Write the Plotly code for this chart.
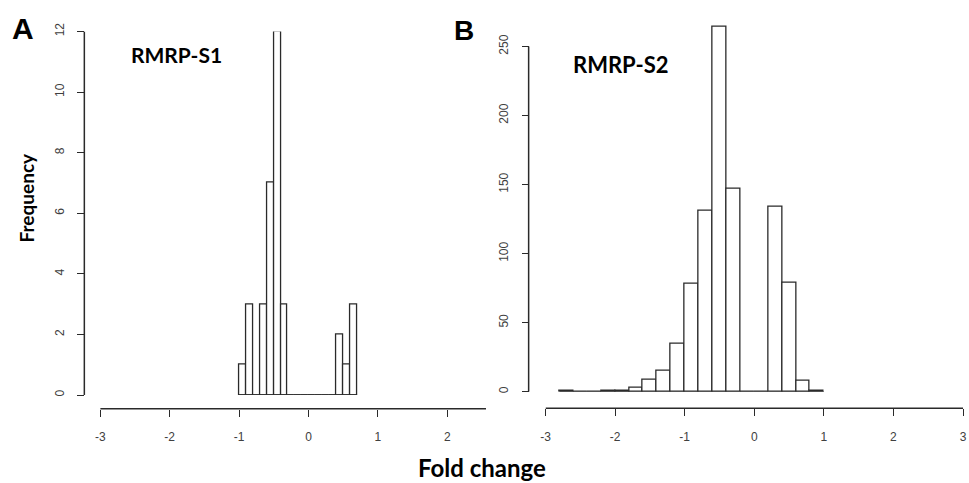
import plotly.graph_objects as go

# ---------------- data ----------------
# Panel A: RMRP-S1 histogram (bin width 0.1)
s1_edges = [-1.0, -0.9, -0.8, -0.7, -0.6, -0.5, -0.4, -0.3, -0.2, -0.1, 0.0,
            0.1, 0.2, 0.3, 0.4, 0.5, 0.6, 0.7]
s1_counts = [1, 3, 0, 3, 7, 12, 3, 0, 0, 0, 0, 0, 0, 0, 2, 1, 3]

# Panel B: RMRP-S2 histogram (bin width 0.2)
s2_edges = [-2.8, -2.6, -2.4, -2.2, -2.0, -1.8, -1.6, -1.4, -1.2, -1.0, -0.8,
            -0.6, -0.4, -0.2, 0.0, 0.2, 0.4, 0.6, 0.8, 1.0]
s2_counts = [1, 0, 0, 1, 1, 3, 9, 15, 35, 78, 131, 264, 147, 0, 0, 134, 79, 8, 1]

x_ticks = [-3, -2, -1, 0, 1, 2, 3]
y_ticks_a = [0, 2, 4, 6, 8, 10, 12]
y_ticks_b = [0, 50, 100, 150, 200, 250]

# ---------------- layout helpers ----------------
W, H = 969, 483
def fx(px):
    return px / W
def fy(py):
    return 1 - py / H

def centers(edges):
    return [(a + b) / 2 for a, b in zip(edges[:-1], edges[1:])]

def widths(edges):
    return [b - a for a, b in zip(edges[:-1], edges[1:])]

LINE = "#2a2a2a"
TICKC = "#404040"
tickfont = dict(family="Liberation Sans, Arial, sans-serif", size=12, color=TICKC)

fig = go.Figure()

# Panel A
fig.add_trace(go.Bar(x=centers(s1_edges), y=s1_counts, width=widths(s1_edges),
                     marker=dict(color="white", line=dict(color=LINE, width=1.3)),
                     xaxis="x", yaxis="y", showlegend=False, hoverinfo="skip"))
fig.add_trace(go.Scatter(x=[s1_edges[0], s1_edges[-1]], y=[0, 0], mode="lines",
                         line=dict(color=LINE, width=1.3),
                         xaxis="x", yaxis="y", showlegend=False, hoverinfo="skip"))
# Panel B
fig.add_trace(go.Bar(x=centers(s2_edges), y=s2_counts, width=widths(s2_edges),
                     marker=dict(color="white", line=dict(color=LINE, width=1.3)),
                     xaxis="x2", yaxis="y2", showlegend=False, hoverinfo="skip"))
fig.add_trace(go.Scatter(x=[s2_edges[0], s2_edges[-1]], y=[0, 0], mode="lines",
                         line=dict(color=LINE, width=1.3),
                         xaxis="x2", yaxis="y2", showlegend=False, hoverinfo="skip"))

# Panel geometry (pixels)
A_x0, A_x1, A_xr = 96, 485, [-3, 2.557]
A_ybot, A_ytop = 395, 23
A_yaxis_px, A_xaxis_py = 80, 409
B_x0, B_x1, B_xr = 545, 967, [-3, 3.014]
B_ybot, B_ytop, B_ymax = 391.7, 10.0, 270
B_yaxis_px, B_xaxis_py = 528, 408.5

common_x = dict(showgrid=False, zeroline=False, showline=False, ticks="outside",
                ticklen=7, tickwidth=1.3, tickcolor=LINE, tickfont=tickfont,
                tickvals=x_ticks, ticktext=[str(v) for v in x_ticks],
                ticklabelstandoff=10, ticklabeloverflow="allow",
                anchor="free", fixedrange=True)
common_y = dict(showgrid=False, zeroline=False, showline=False, ticks="outside",
                ticklen=7, tickwidth=1.3, tickcolor=LINE, tickfont=tickfont,
                tickangle=-90, ticklabelstandoff=9, ticklabeloverflow="allow",
                anchor="free", fixedrange=True)

fig.update_layout(
    width=W, height=H,
    margin=dict(l=0, r=0, t=0, b=0),
    paper_bgcolor="white", plot_bgcolor="rgba(0,0,0,0)",
    bargap=0,
    xaxis=dict(common_x, domain=[fx(A_x0), fx(A_x1)], range=A_xr, position=fy(A_xaxis_py)),
    yaxis=dict(common_y, domain=[fy(A_ybot), fy(A_ytop)], range=[0, 12],
               tickvals=y_ticks_a, position=fx(A_yaxis_px)),
    xaxis2=dict(common_x, domain=[fx(B_x0), fx(B_x1)], range=B_xr, position=fy(B_xaxis_py)),
    yaxis2=dict(common_y, domain=[fy(B_ybot), fy(B_ytop)], range=[0, B_ymax],
                tickvals=y_ticks_b, position=fx(B_yaxis_px)),
)

# R-style axis lines spanning first to last tick
shapes = [
    dict(type="line", xref="paper", yref="y", x0=fx(A_yaxis_px), x1=fx(A_yaxis_px),
         y0=y_ticks_a[0], y1=y_ticks_a[-1], line=dict(color=LINE, width=1.5)),
    dict(type="line", xref="x", yref="paper", x0=A_xr[0], x1=A_xr[1],
         y0=fy(A_xaxis_py), y1=fy(A_xaxis_py), line=dict(color=LINE, width=1.5)),
    dict(type="line", xref="paper", yref="y2", x0=fx(B_yaxis_px), x1=fx(B_yaxis_px),
         y0=y_ticks_b[0], y1=y_ticks_b[-1], line=dict(color=LINE, width=1.5)),
    dict(type="line", xref="x2", yref="paper", x0=x_ticks[0], x1=x_ticks[-1],
         y0=fy(B_xaxis_py), y1=fy(B_xaxis_py), line=dict(color=LINE, width=1.5)),
]
fig.update_layout(shapes=shapes)

lab = "Lato, Noto Sans, sans-serif"
annots = [
    dict(text="<b>A</b>", x=fx(18), y=fy(20), font=dict(family="Liberation Sans, Arial", size=30, color="black")),
    dict(text="<b>B</b>", x=fx(463), y=fy(22), font=dict(family="Liberation Sans, Arial", size=28, color="black")),
    dict(text="<b>RMRP-S1</b>", x=fx(173), y=fy(47), font=dict(family=lab, size=21, color="black")),
    dict(text="<b>RMRP-S2</b>", x=fx(621), y=fy(57), font=dict(family=lab, size=22, color="black")),
    dict(text="<b>Frequency</b>", x=fx(22), y=fy(193), textangle=-90, font=dict(family=lab, size=19, color="black")),
    dict(text="<b>Fold change</b>", x=fx(481), y=fy(469), font=dict(family=lab, size=24, color="black")),
]
for a in annots:
    a.update(xref="paper", yref="paper", xanchor="center", yanchor="middle", showarrow=False)
fig.update_layout(annotations=annots)

fig.write_html("out.html", config={"displayModeBar": False},
               post_script="document.body.style.margin='0';")
